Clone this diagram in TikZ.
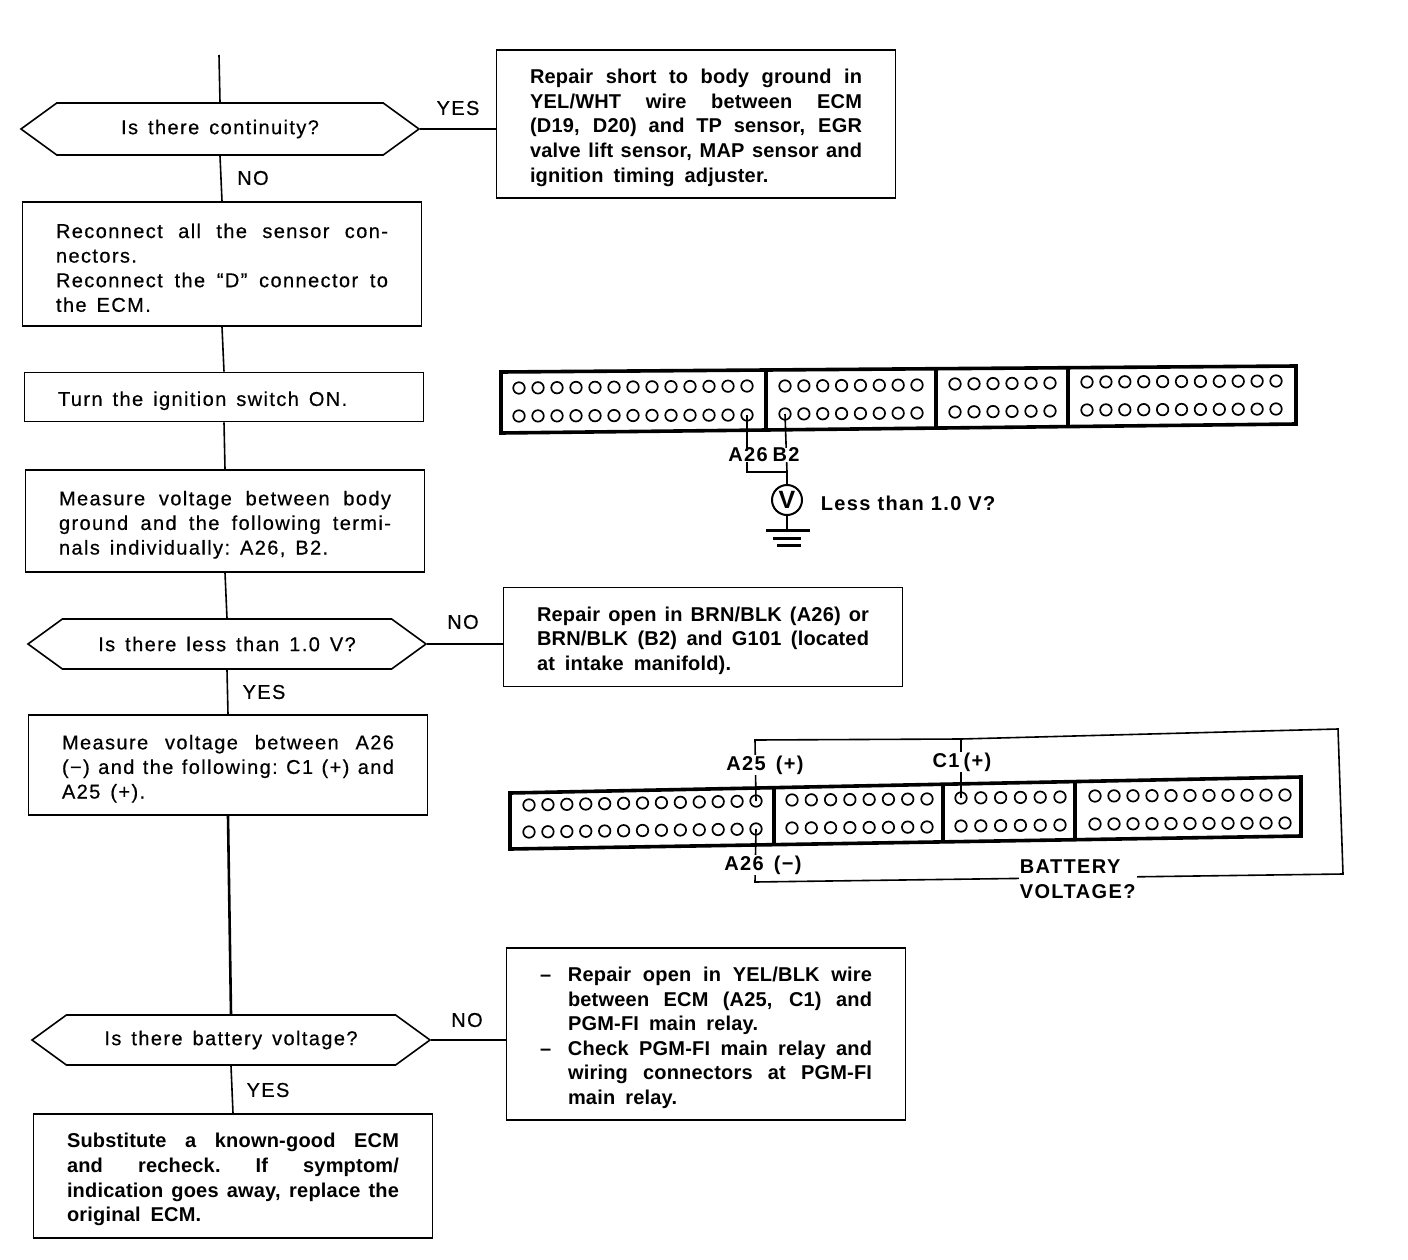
\documentclass[tikz,border=0pt]{standalone}
\usepackage{fontspec}
\setmainfont[UprightFeatures={FakeBold=0.5,LetterSpace=7},BoldFeatures={LetterSpace=1}]{Liberation Sans}
\newfontface\tagface[LetterSpace=7]{Liberation Sans Bold}
\usetikzlibrary{arrows.meta,calc,shapes.symbols}
\newcommand{\jline}[2][332pt]{\makebox[#1][s]{\spaceskip=.3em plus 1fil\xspaceskip=.3em plus 1fil\relax #2}}
\newcommand{\pinrow}[6]{\foreach \i in {1,...,#2}
  \node[pin] (#1\i) at ({#3+(\i-1)*(#4-#3)/(#2-1)},{#5+(\i-1)*(#6-#5)/(#2-1)}) {};}

\begin{document}
\begin{tikzpicture}[x=1pt,y=-1pt,line width=1.6pt,
  every node/.style={font=\fontsize{20}{24.6}\selectfont},
  stepbox/.style={draw,text width=332pt,align=left,inner sep=0pt,minimum width=399pt,
    execute at begin node={\rule{0pt}{22pt}\spaceskip=.5em\xspaceskip=.5em\relax}},
  boldbox/.style={stepbox,font=\fontsize{20}{24.6}\selectfont\bfseries},
  ask/.style={draw,signal,signal to=east and west,signal pointer angle=72,
    inner sep=0pt,minimum width=398pt,minimum height=50pt,
    execute at begin node={\spaceskip=.5em\relax}},
  tag/.style={fill=white,inner sep=1pt,font=\tagface\fontsize{20}{24.6}\selectfont},
  pin/.style={circle,draw,line width=1.7pt,inner sep=0pt,minimum size=11.5pt},
  shell/.style={line width=3.6pt,line join=miter}]
  \useasboundingbox (0,0) rectangle (1408,1260);

  % left column
  \coordinate (start) at (219,55);
  \node[ask,minimum height=52pt] (asks) at (220,129) {\raisebox{-2pt}{Is there continuity?}};
  \node[stepbox,minimum height=124pt] (reconnect) at (222,264)
    {\jline{Reconnect all the sensor con-}\\nectors.\\\jline{Reconnect the “D” connector to}\\the ECM.};
  \node[stepbox,minimum height=49pt] (ignition) at (224,397) {Turn the ignition switch ON.};
  \node[stepbox,minimum height=102pt] (measure) at (225,521)
    {\jline{Measure voltage between body}\\\jline{ground and the following termi-}\\nals individually: A26, B2.};
  \node[ask] (askv) at (227,644) {Is there less than 1.0 V?};
  \node[stepbox,minimum height=100pt] (between) at (228,765)
    {\jline{Measure voltage between A26}\\\jline{(−) and the following: C1 (+) and}\\A25 (+).};
  \node[ask] (askb) at (231,1040) {\raisebox{-3pt}{Is there battery voltage?}};
  \node[boldbox,minimum height=124pt] (subst) at (233,1176)
    {\jline{Substitute a known-good ECM}\\\jline{and recheck. If symptom/}\\\jline{indication goes away, replace the}\\original ECM.};

  % right column
  \node[boldbox,minimum height=148pt] (fixa) at (696,124)
    {\jline{Repair short to body ground in}\\\jline{YEL/WHT wire between ECM}\\\jline{(D19, D20) and TP sensor, EGR}\\\jline{valve lift sensor, MAP sensor and}\\ignition timing adjuster.};
  \node[boldbox,minimum height=99pt] (fixb) at (703,637)
    {\jline{Repair open in BRN/BLK (A26) or}\\\jline{BRN/BLK (B2) and G101 (located}\\at intake manifold).};
  \node[boldbox,minimum height=172pt] (fixc) at (706,1034)
    {\makebox[28pt][l]{–}\jline[304pt]{Repair open in YEL/BLK wire}\\\hspace*{28pt}\jline[304pt]{between ECM (A25, C1) and}\\\hspace*{28pt}PGM-FI main relay.\\\makebox[28pt][l]{–}\jline[304pt]{Check PGM-FI main relay and}\\\hspace*{28pt}\jline[304pt]{wiring connectors at PGM-FI}\\\hspace*{28pt}main relay.};

  \draw (start) -- (asks.north);
  \draw (asks.south) -- (reconnect.north);
  \draw (reconnect.south) -- (ignition.north);
  \draw (ignition.south) -- (measure.north);
  \draw (measure.south) -- (askv.north);
  \draw (askv.south) -- (between.north);
  \draw[line width=2.6pt] (between.south) -- (askb.north);
  \draw (askb.south) -- (subst.north);
  \draw (asks.east) -- (asks.east -| fixa.west);
  \draw (askv.east) -- (askv.east -| fixb.west);
  \draw (askb.east) -- (askb.east -| fixc.west);

  \node (yesa) at (458,108) {YES};
  \node (noa) at (253,178) {NO};
  \node (nob) at (463,622) {NO};
  \node (yesb) at (264,692) {YES};
  \node (noc) at (467,1020) {NO};
  \node (yesc) at (268,1090) {YES};

  % upper connector
  \draw[shell] (501,372) -- (1296,366) -- (1296,424) -- (501,433) -- cycle;
  \draw[shell] (766,372) -- (766,430) (936,370) -- (936,428) (1068,369) -- (1068,426);
  \pinrow{ua}{13}{519}{747}{388}{386}
  \pinrow{ub}{13}{519}{747}{416}{415}
  \pinrow{uc}{8}{785}{917}{386}{385}
  \pinrow{ud}{8}{785}{917}{414}{413}
  \pinrow{ue}{6}{955}{1050}{384}{383}
  \pinrow{uf}{6}{955}{1050}{412}{411}
  \pinrow{ug}{11}{1087}{1276}{382}{381}
  \pinrow{uh}{11}{1087}{1276}{410}{409}
  \node[circle,draw,line width=2pt,minimum size=30pt,inner sep=0pt,font=\fontsize{25}{25}\selectfont\bfseries] (meter) at (787,500) {V};
  \coordinate (join) at (787,472);
  \coordinate (gnd) at (787,530);
  \draw (ub13.center) |- (join);
  \draw (ud1.center) -- (join) -- (meter.north);
  \draw (meter.south) -- (gnd);
  \draw[line width=3pt] (766,530) -- (810,530) (773,538) -- (801,538) (777,545) -- (801,545);
  \node[tag,inner sep=0pt] (ta26) at (748,455) {A26};
  \node[tag,inner sep=0pt] (tb2) at (786,455) {B2};
  \node[tag,anchor=west] (less) at (819,503) {Less than 1.0 V?};

  % lower connector
  \draw[shell] (510,793) -- (1301,777) -- (1301,836) -- (510,849) -- cycle;
  \draw[shell] (774,789) -- (774,845) (943,785) -- (943,842) (1075,782) -- (1075,839);
  \pinrow{la}{13}{529}{756}{805}{801}
  \pinrow{lb}{13}{529}{756}{832}{829}
  \pinrow{lc}{8}{792}{927}{800}{799}
  \pinrow{ld}{8}{792}{927}{828}{827}
  \pinrow{le}{6}{961}{1060}{798}{797}
  \pinrow{lf}{6}{961}{1060}{826}{825}
  \pinrow{lg}{11}{1095}{1285}{796}{795}
  \pinrow{lh}{11}{1095}{1285}{824}{823}
  \coordinate (topa) at (755,740);
  \coordinate (topc) at (961,739);
  \coordinate (topr) at (1338,729);
  \coordinate (botr) at (1343,874);
  \coordinate (botl) at (755,882);
  \draw (la13.center) -- (topa) -- (topc) -- (topr) -- (botr) -- (botl) -- (lb13.center);
  \draw (le1.center) -- (topc);
  \node[tag] (tp) at (765,765) {A25\hspace{10pt}(+)};
  \node[tag] (tc) at (962,762) {C1\hspace{4pt}(+)};
  \node[tag] (tm) at (763,865) {A26\hspace{10pt}(−)};
  \node[tag,align=left,anchor=west] (batt) at (1018,879) {BATTERY\\VOLTAGE?};
\end{tikzpicture}
\end{document}
